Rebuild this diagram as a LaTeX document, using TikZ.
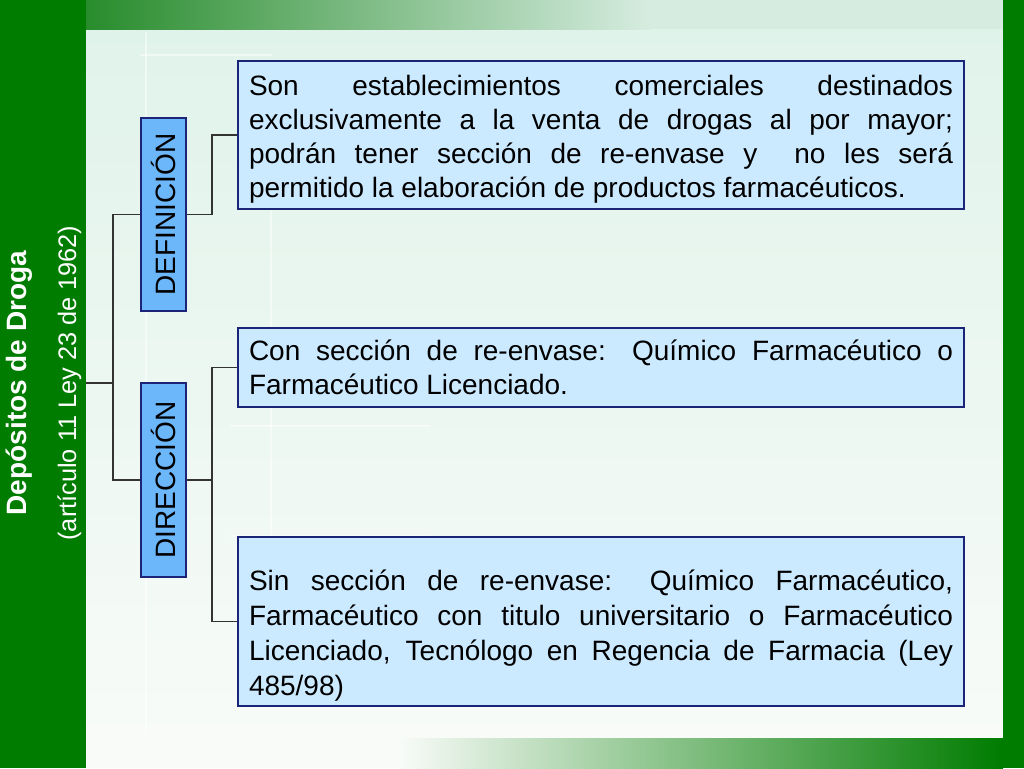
\documentclass[tikz,border=0pt]{standalone}
\usepackage{fontspec}
\setmainfont{Liberation Sans}
\usetikzlibrary{positioning}
\definecolor{slidegreen}{RGB}{0,124,0}
\definecolor{bandgreen}{RGB}{40,140,44}
\definecolor{mint}{RGB}{224,243,234}
\definecolor{bandmint}{RGB}{214,236,224}
\definecolor{paper}{RGB}{248,251,248}
\definecolor{tabblue}{RGB}{108,182,250}
\definecolor{notefill}{RGB}{204,234,255}
\definecolor{navy}{RGB}{28,36,120}
\hyphenpenalty=10000
\exhyphenpenalty=10000
\begin{document}
\begin{tikzpicture}[x=0.75pt,y=-0.75pt,
    tab/.style={draw=navy,fill=tabblue,line width=0.8pt,rotate=90,inner sep=0pt,
      minimum height=33.75pt,font=\fontsize{21}{25}\selectfont},
    note/.style={draw=navy,fill=notefill,line width=0.8pt,text width=528pt,
      inner xsep=8.25pt,inner ysep=2pt,align=justify,font=\fontsize{21}{25.5}\selectfont},
    conn/.style={draw=black!80,line width=0.8pt}]
    \useasboundingbox (0,0) rectangle (1024,768);
    \shade[top color=mint,bottom color=paper] (86,29) rectangle (1003,738);
    \shade[left color=bandgreen,right color=bandmint] (86,0) rectangle (650,29);
    \fill[bandmint] (650,0) rectangle (1003,29);
    \fill[paper] (86,738) rectangle (400,768);
    \shade[left color=paper,right color=slidegreen] (400,738) rectangle (1003,768);
    \draw[white,opacity=0.5,line width=1.5pt] (146,32) -- (146,735);
    \draw[white,opacity=0.5,line width=1.5pt] (271,200) -- (271,560);
    \draw[white,opacity=0.5,line width=1.5pt] (140,55) -- (272,55);
    \draw[white,opacity=0.5,line width=1.5pt] (230,426) -- (430,426);
    \draw[white,opacity=0.5,line width=1.5pt] (230,536) -- (430,536);
    \fill[slidegreen] (0,0) rectangle (86,768);
    \fill[slidegreen] (1003,0) rectangle (1024,768);

    \node[rotate=90,text=white,align=center,font=\fontsize{19}{37.5}\selectfont] (title) at (43.5,383)
      {{\fontsize{21}{37.5}\selectfont\bfseries Depósitos de Droga}\\(artículo 11 Ley 23 de 1962)};

    \node[tab,minimum width=144.75pt] (def) at (163.5,214.5) {DEFINICIÓN};
    \node[tab,minimum width=145.5pt] (dir) at (163.5,480) {DIRECCIÓN};

    \node[note,minimum height=111pt] (t1) at (601,135) {\rule{0pt}{21.5pt}Son establecimientos comerciales destinados\linebreak
      exclusivamente a la venta de drogas al por mayor;\linebreak
      podrán tener sección de re-envase y \ no les será\linebreak
      permitido la elaboración de productos farmacéuticos.};
    \node[note,minimum height=59.25pt] (t2) at (601,367.5) {Con sección de re-envase: Químico Farmacéutico o\linebreak
      Farmacéutico Licenciado.};
    \node[note,minimum height=126.75pt,font=\fontsize{21}{26.25}\selectfont] (t3) at (601,621.5)
      {\rule{0pt}{36pt}Sin sección de re-envase: Químico Farmacéutico,\linebreak
      Farmacéutico con titulo universitario o Farmacéutico\linebreak
      Licenciado, Tecnólogo en Regencia de Farmacia (Ley\linebreak
      485/98)};

    \coordinate (root) at (86,383);
    \coordinate (split) at (113,383);
    \coordinate (defjoin) at (212,214.5);
    \coordinate (dirjoin) at (212,480);
    \draw[conn] (root) -- (split);
    \draw[conn] (def.north) -| (split) |- (dir.north);
    \draw[conn] (def.south) -- (defjoin) |- (t1.west);
    \draw[conn] (dir.south) -- (dirjoin);
    \draw[conn] (t2.west) -| (dirjoin) |- (t3.west);
\end{tikzpicture}
\end{document}
